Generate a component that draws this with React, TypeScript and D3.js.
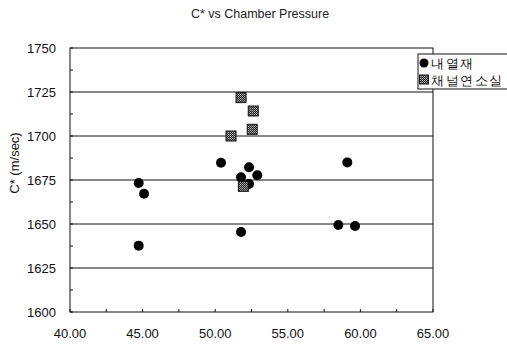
import React from "react";
import * as d3 from "d3";

const seriesNames = ["내열재", "채널연소실"];
const circX = [44.73, 45.1, 44.73, 50.4, 52.33, 52.9, 51.78, 52.33, 51.78, 59.1, 58.48, 59.63];
const circY = [1673.3, 1667.2, 1637.7, 1684.8, 1682.2, 1677.7, 1676.5, 1672.7, 1645.5, 1685, 1649.4, 1648.9];
const sqX = [51.78, 52.62, 51.09, 52.55, 51.94];
const sqY = [1721.8, 1714.2, 1700, 1703.8, 1671.4];
const xTicks = [40, 45, 50, 55, 60, 65];
const yTicks = [1600, 1625, 1650, 1675, 1700, 1725, 1750];

const W = 507, H = 344;
const L = 70, R = 433, T = 48, B = 312;

export default function App() {
  const x = d3.scaleLinear().domain([40, 65]).range([L, R]);
  const y = d3.scaleLinear().domain([1600, 1750]).range([B, T]);
  const font = "Arial, 'Liberation Sans', sans-serif";
  const xMinor = d3.range(40, 65.01, 2.5);
  const yMinor = d3.range(1600, 1750.01, 12.5);
  return (
    <svg width={W} height={H} style={{ position: "absolute", left: 0, top: 0, background: "#fff" }} fontFamily={font}>
      <defs>
        <pattern id="hatch" width="2" height="2" patternUnits="userSpaceOnUse">
          <rect width="2" height="2" fill="#222" />
          <rect width="1" height="1" fill="#bbb" />
          <rect x="1" y="1" width="1" height="1" fill="#888" />
        </pattern>
      </defs>
      <rect width={W} height={H} fill="#fff" />
      <text x={260} y={18} textAnchor="middle" fontSize={12.5} fill="#222">C* vs Chamber Pressure</text>
      {yTicks.filter(v => v > 1600 && v < 1750).map(v => (
        <line key={v} x1={L} x2={R} y1={y(v)} y2={y(v)} stroke="#111" strokeWidth={1} />
      ))}
      <rect x={L} y={T} width={R - L} height={B - T} fill="none" stroke="#111" strokeWidth={1} />
      {yMinor.map(v => (
        <line key={"ym" + v} x1={L} x2={L + 3} y1={y(v)} y2={y(v)} stroke="#111" />
      ))}
      {xMinor.map(v => (
        <line key={"xm" + v} x1={x(v)} x2={x(v)} y1={B} y2={B - 3} stroke="#111" />
      ))}
      {yTicks.map(v => (
        <text key={"yt" + v} x={L - 14} y={y(v) + 5} textAnchor="end" fontSize={13} fill="#111">{v}</text>
      ))}
      {xTicks.map(v => (
        <text key={"xt" + v} x={x(v)} y={B + 26} textAnchor="middle" fontSize={13} fill="#111">{v.toFixed(2)}</text>
      ))}
      <text transform={`translate(19,163) rotate(-90)`} textAnchor="middle" fontSize={13} fill="#111">C* (m/sec)</text>
      {circX.map((v, i) => (
        <circle key={"c" + i} cx={x(v)} cy={y(circY[i])} r={5} fill="#000" />
      ))}
      {sqX.map((v, i) => (
        <rect key={"s" + i} x={x(v) - 5} y={y(sqY[i]) - 5} width={10} height={10} fill="url(#hatch)" stroke="#111" strokeWidth={1} />
      ))}
      <rect x={418} y={54} width={100} height={35} fill="#fff" stroke="#111" strokeWidth={1} />
      <circle cx={424} cy={63} r={4.5} fill="#000" />
      <text x={431} y={68} fontSize={13} letterSpacing={1.5} fill="#111">{seriesNames[0]}</text>
      <rect x={419.5} y={75} width={9} height={9} fill="url(#hatch)" stroke="#111" />
      <text x={431} y={85} fontSize={13} letterSpacing={1.5} fill="#111">{seriesNames[1]}</text>
    </svg>
  );
}
